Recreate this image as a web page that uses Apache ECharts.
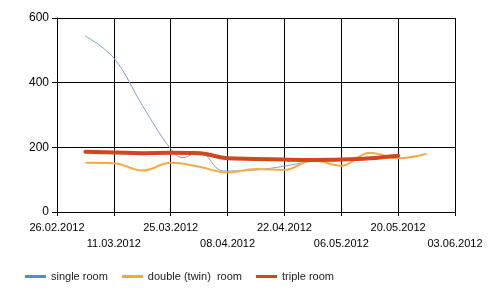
<!DOCTYPE html>
<html>
<head>
<meta charset="utf-8">
<script src="https://cdn.jsdelivr.net/npm/echarts@6/dist/echarts.min.js"></script>
<style>html,body{margin:0;padding:0;background:#fff;}#c{width:500px;height:296px;}</style>
</head>
<body>
<div id="c"></div>
<script>
// Axis start date and tick labels
const startDate = '2012-02-26';
const tickLabels = ['26.02.2012','11.03.2012','25.03.2012','08.04.2012','22.04.2012','06.05.2012','20.05.2012','03.06.2012'];
const yTicks = [0, 200, 400, 600];

// single room
const singleDates  = ['2012-03-04','2012-03-11','2012-03-18','2012-03-25','2012-03-28','2012-04-01','2012-04-07','2012-04-15','2012-04-22','2012-04-29','2012-05-06','2012-05-13','2012-05-20'];
const singleValues = [544, 476, 330, 195, 168, 186, 127, 130, 142, 157, 163, 167, 174];

// double (twin) room
const doubleDates  = ['2012-03-04','2012-03-11','2012-03-18','2012-03-25','2012-04-01','2012-04-08','2012-04-15','2012-04-22','2012-04-29','2012-05-06','2012-05-13','2012-05-20','2012-05-27'];
const doubleValues = [152, 151, 128, 152, 140, 122, 133, 130, 160, 143, 183, 166, 180];

// triple room
const tripleDates  = ['2012-03-04','2012-03-11','2012-03-18','2012-03-25','2012-04-01','2012-04-08','2012-04-15','2012-04-22','2012-04-29','2012-05-06','2012-05-13','2012-05-20'];
const tripleValues = [186, 184, 182, 183, 182, 166, 164, 162, 161, 162, 166, 174];

const DAY = 86400000;
const sp = startDate.split('-').map(Number);
const t0 = Date.UTC(sp[0], sp[1] - 1, sp[2]);
function dayOffset(s) {
  const p = s.split('-').map(Number);
  return Math.round((Date.UTC(p[0], p[1] - 1, p[2]) - t0) / DAY);
}
function pairs(dates, vals) { return dates.map((d, i) => [dayOffset(d), vals[i]]); }

const chart = echarts.init(document.getElementById('c'), null, {renderer: 'canvas'});
chart.setOption({
  animation: false,
  backgroundColor: '#ffffff',
  textStyle: {fontFamily: 'Liberation Sans, Arial, sans-serif'},
  grid: {left: 57, right: 45, top: 18, bottom: 84, containLabel: false},
  legend: {
    left: 20, top: 266, itemWidth: 21, itemHeight: 3, itemGap: 14,
    icon: 'rect',
    textStyle: {fontSize: 11, color: '#222', fontFamily: 'Liberation Sans, Arial, sans-serif'},
    data: ['single room', 'double (twin)  room', 'triple room']
  },
  xAxis: {
    type: 'value', min: 0, max: 98, interval: 14,
    axisLine: {lineStyle: {color: '#000', width: 1}},
    axisTick: {show: true, length: 4, lineStyle: {color: '#000'}},
    splitLine: {show: true, lineStyle: {color: '#000', width: 1}},
    axisLabel: {
      color: '#000', fontSize: 11, margin: 8, lineHeight: 16,
      formatter: function (v) {
        const idx = Math.round(v / 14);
        const lab = tickLabels[idx] || '';
        return idx % 2 === 1 ? '\n' + lab : lab;
      }
    }
  },
  yAxis: {
    type: 'value', min: yTicks[0], max: yTicks[yTicks.length - 1], interval: 200,
    axisLine: {show: true, lineStyle: {color: '#000', width: 1}},
    axisTick: {show: true, length: 5, lineStyle: {color: '#000'}},
    splitLine: {show: true, lineStyle: {color: '#000', width: 1}},
    axisLabel: {color: '#000', fontSize: 12, margin: 8}
  },
  series: [
    {name: 'single room', type: 'line', smooth: 0.4, symbol: 'none',
     color: '#4f8be0',
     lineStyle: {width: 1, color: '#7c9fda'},
     data: pairs(singleDates, singleValues), z: 2},
    {name: 'double (twin)  room', type: 'line', smooth: 0.4, symbol: 'none',
     color: '#f5a83a',
     lineStyle: {width: 2, color: '#f5ab45'},
     data: pairs(doubleDates, doubleValues), z: 3},
    {name: 'triple room', type: 'line', smooth: 0.4, symbol: 'none',
     color: '#d2461e',
     lineStyle: {width: 4, color: '#d2461e', cap: 'round'},
     data: pairs(tripleDates, tripleValues), z: 4}
  ]
});
</script>
</body>
</html>
